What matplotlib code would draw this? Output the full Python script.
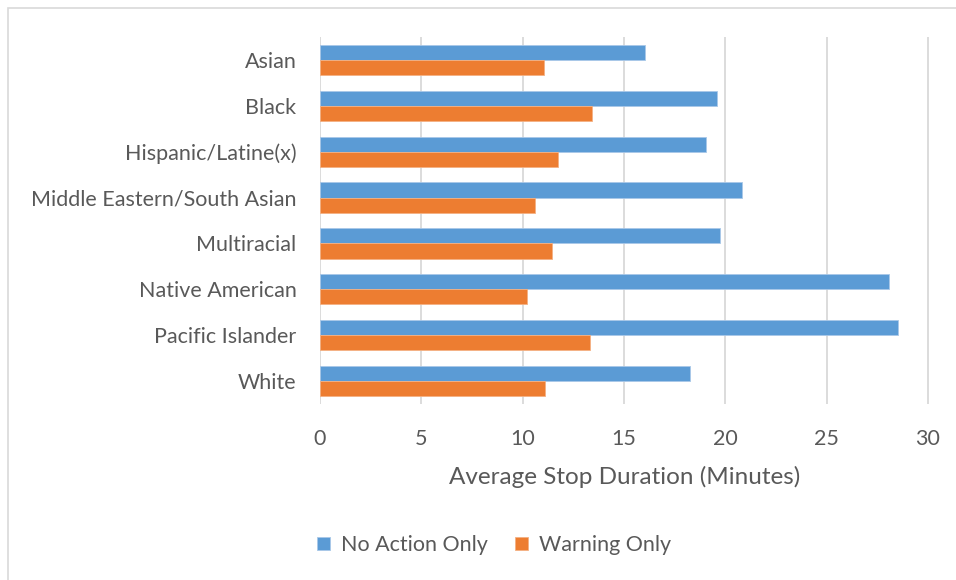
import numpy as np
import matplotlib
matplotlib.use('Agg')
import matplotlib.pyplot as plt
from matplotlib.patches import Rectangle

# Data
groups = ['Asian', 'Black', 'Hispanic/Latine(x)', 'Middle Eastern/South Asian',
          'Multiracial', 'Native American', 'Pacific Islander', 'White']
no_action = [16.05, 19.58, 19.04, 20.84, 19.72, 28.09, 28.51, 18.27]
warning = [11.04, 13.40, 11.73, 10.63, 11.46, 10.23, 13.30, 11.10]
series_names = ['No Action Only', 'Warning Only']
x_ticks = [0, 5, 10, 15, 20, 25, 30]

blue = '#5b9bd5'
orange = '#ed7d31'
text_col = '#595959'
grid_col = '#d9d9d9'

plt.rcParams['font.family'] = ['Lato', 'DejaVu Sans']

W, H = 956, 580
fig = plt.figure(figsize=(W / 100, H / 100), dpi=100)

# outer chart border
fig.patches.append(Rectangle((8 / W, -0.01), 1.0, 1 - 8 / H + 0.01,
                             transform=fig.transFigure, fill=False,
                             edgecolor='#d9d9d9', linewidth=1.2))

ax = fig.add_axes([320 / W, 1 - 404 / H, (930 - 320) / W, (404 - 37) / H])

y = np.arange(len(groups))
bh = 0.33
ax.barh(y - bh / 2, no_action, height=bh, color=blue, label=series_names[0],
        edgecolor='#a9c8e8', linewidth=0.6, zorder=3)
ax.barh(y + bh / 2, warning, height=bh, color=orange, label=series_names[1],
        edgecolor='#f4b183', linewidth=0.6, zorder=3)

ax.set_ylim(len(groups) - 0.5, -0.5)
ax.set_xlim(0, 30.1)
ax.set_xticks(x_ticks)
ax.set_yticks(y)
ax.set_yticklabels(groups)
ax.tick_params(axis='both', length=0, labelsize=15.5, colors=text_col)
ax.tick_params(axis='x', pad=18)
ax.tick_params(axis='y', pad=17)
ax.grid(axis='x', color=grid_col, linewidth=1.3, zorder=0)
for s in ax.spines.values():
    s.set_visible(False)

ax.set_xlabel('Average Stop Duration (Minutes)', fontsize=17.5, color=text_col,
              labelpad=12)

leg = fig.legend(loc='center', bbox_to_anchor=(494 / W, 1 - 545 / H), ncol=2,
                 frameon=False, fontsize=15.5, handlelength=0.6,
                 handleheight=0.6, handletextpad=0.5, columnspacing=1.3,
                 labelcolor=text_col)

fig.savefig('out.png', dpi=100, facecolor='white')
